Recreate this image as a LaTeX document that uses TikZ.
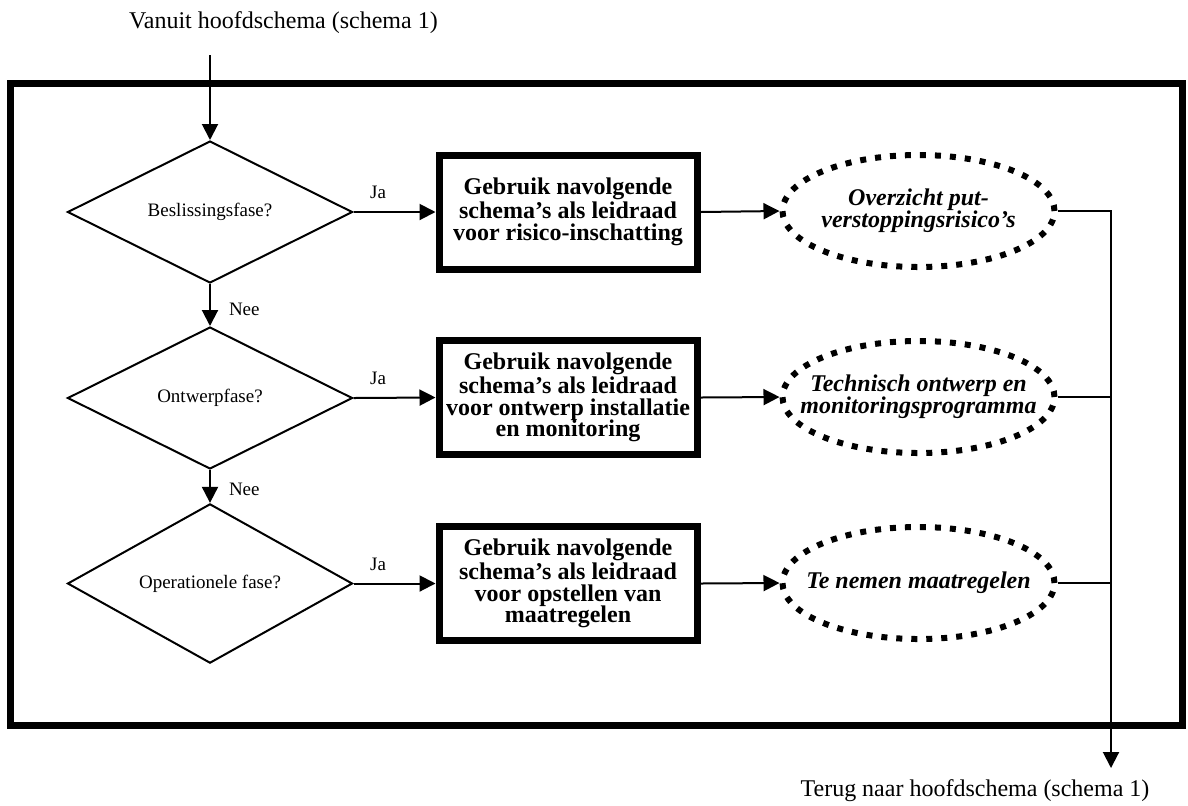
\documentclass[tikz,border=0pt]{standalone}
\usepackage{fontspec}
\setmainfont{Liberation Serif}
\usetikzlibrary{shapes.geometric,arrows.meta}
\begin{document}
\begin{tikzpicture}[x=0.5pt,y=-0.5pt,
  every node/.style={inner sep=0pt},
  txt/.style={font=\fontsize{12}{13}\selectfont},
  lbl/.style={font=\fontsize{9.5}{11}\selectfont},
  question/.style={diamond, draw, line width=1pt, minimum width=142.5pt,
    minimum height=71pt, font=\fontsize{9.5}{11}\selectfont},
  task/.style={rectangle, draw, line width=3.5pt, minimum width=129pt,
    minimum height=57pt, align=center,
    font=\fontsize{12}{10.9}\selectfont\bfseries},
  result/.style={ellipse, draw, line width=3pt,
    dash pattern=on 3pt off 4.5pt, minimum width=136pt,
    minimum height=56pt},
  resulttext/.style={align=center,
    font=\fontsize{12}{10.9}\selectfont\bfseries\itshape},
  flow/.style={line width=1pt, -{Triangle[length=8pt,width=8pt]}},
  link/.style={line width=1pt}
]
\useasboundingbox (0,0) rectangle (1188,805);

% outer frame
\draw[line width=3.5pt] (10.5,83.5) rectangle (1182.5,725);

% entry and exit texts
\node[txt] (from) at (283.5,23) {Vanuit hoofdschema (schema 1)};
\node[txt] (back) at (975,791) {Terug naar hoofdschema (schema 1)};
\coordinate (in) at (210,55);
\coordinate (out) at (1111,768);

% decision column
\node[question] (q1) at (210,212) {Beslissingsfase?};
\node[question] (q2) at (210,398) {Ontwerpfase?};
\node[question] (q3) at (210,583.5) {Operationele fase?};

% guidance boxes
\node[task] (t1) at (568,212) {Gebruik navolgende\\schema’s als leidraad\\voor risico-inschatting};
\node[task] (t2) at (568,397.5) {Gebruik navolgende\\schema’s als leidraad\\voor ontwerp installatie\\en monitoring};
\node[task] (t3) at (568,583.5) {Gebruik navolgende\\schema’s als leidraad\\voor opstellen van\\maatregelen};

% results (fixed-size ellipses, text set as centred labels)
\node[result, label={[resulttext]center:Overzicht put-\\verstoppingsrisico’s}] (r1) at (918.5,211) {};
\node[result, label={[resulttext]center:Technisch ontwerp en\\monitoringsprogramma}] (r2) at (918.5,397) {};
\node[result, label={[resulttext]center:Te nemen maatregelen}] (r3) at (918.5,583) {};

% connectors
\draw[flow] (in) -- (q1.north);
\draw[flow] (q1.south) -- node[lbl, pos=0.6, right=9pt] {Nee} (q2.north);
\draw[flow] (q2.south) -- node[lbl, pos=0.6, right=9pt] {Nee} (q3.north);

\draw[flow] (q1.east) -- node[lbl, pos=0.3, above=6pt] {Ja} (t1.west);
\draw[flow] (q2.east) -- node[lbl, pos=0.3, above=6pt] {Ja} (t2.west);
\draw[flow] (q3.east) -- node[lbl, pos=0.3, above=6pt] {Ja} (t3.west);

\draw[flow] (t1.east) -- (r1.west);
\draw[flow] (t2.east) -- (r2.west);
\draw[flow] (t3.east) -- (r3.west);

\draw[flow] (r1.east) -| (out);
\draw[link] (r2.east) -- (r2.east -| out);
\draw[link] (r3.east) -- (r3.east -| out);
\end{tikzpicture}
\end{document}
